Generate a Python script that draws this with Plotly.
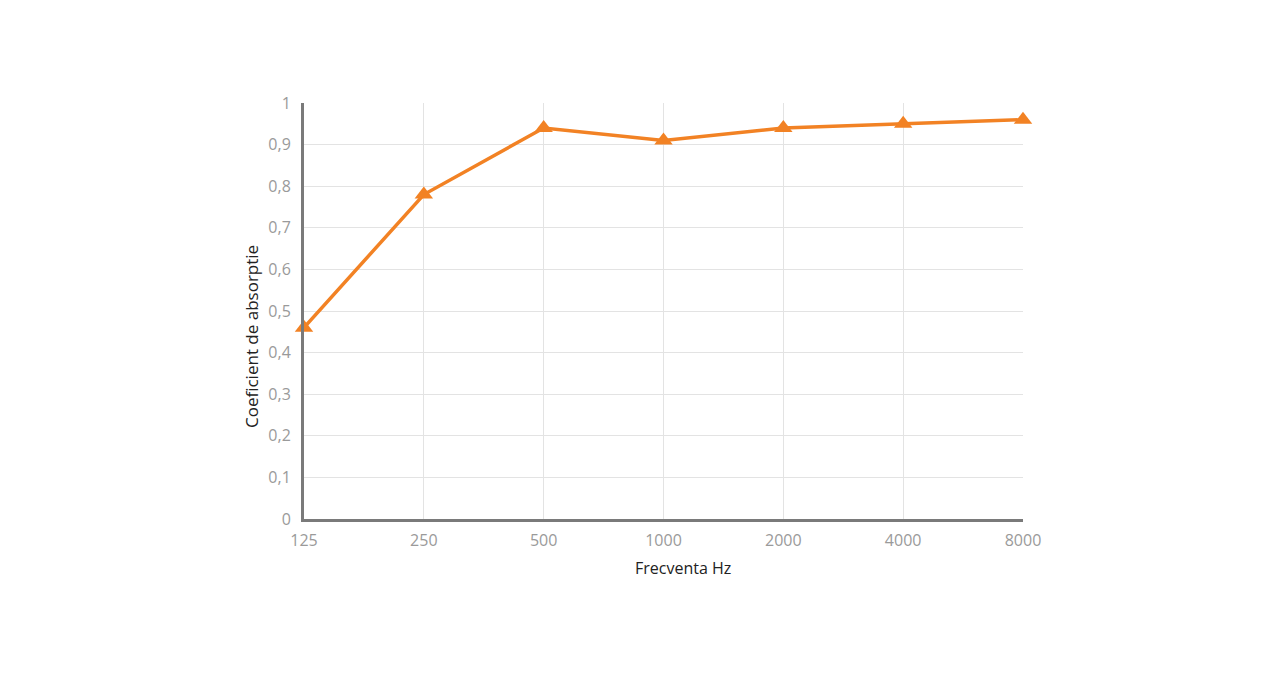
import plotly.graph_objects as go

frequencies = ["125", "250", "500", "1000", "2000", "4000", "8000"]
absorption = [0.46, 0.78, 0.94, 0.91, 0.94, 0.95, 0.96]
y_ticks = [0, 0.1, 0.2, 0.3, 0.4, 0.5, 0.6, 0.7, 0.8, 0.9, 1]
y_tick_labels = ["0", "0,1", "0,2", "0,3", "0,4", "0,5", "0,6", "0,7", "0,8", "0,9", "1"]
x_title = "Frecventa Hz"
y_title = "Coeficient de absorptie"

orange = "#F28224"

fig = go.Figure(go.Scatter(
    x=frequencies, y=absorption, mode="lines+markers",
    line=dict(color=orange, width=3.5),
    marker=dict(symbol="triangle-up", size=16, color=orange),
    cliponaxis=False, hoverinfo="x+y",
))

fig.update_layout(
    width=1280, height=682,
    margin=dict(l=296, r=265, t=95, b=171),
    paper_bgcolor="white", plot_bgcolor="white",
    font=dict(family="Open Sans, DejaVu Sans, sans-serif"),
    showlegend=False,
)
fig.add_annotation(
    text=x_title, xref="paper", yref="paper", x=0.527, y=-0.118,
    showarrow=False, xanchor="center", yanchor="middle",
    font=dict(size=16, color="#222222"),
)
fig.add_annotation(
    text=y_title, xref="paper", yref="paper", x=-0.0737, y=0.4375,
    showarrow=False, xanchor="center", yanchor="middle", textangle=-90,
    font=dict(size=17, color="#222222"),
)
fig.update_xaxes(
    type="category", range=[0, 6],
    showgrid=True, gridcolor="#e3e3e3", gridwidth=1,
    showline=True, linecolor="#7a7a7a", linewidth=3,
    ticks="", tickfont=dict(size=16, color="#9a9a9a"),
    ticklabelstandoff=5,
    zeroline=False,
)
fig.update_yaxes(
    range=[0, 1], tickvals=y_ticks, ticktext=y_tick_labels,
    showgrid=True, gridcolor="#e3e3e3", gridwidth=1,
    showline=True, linecolor="#7a7a7a", linewidth=3,
    ticks="", tickfont=dict(size=16, color="#9a9a9a"),
    ticklabelstandoff=7,
    zeroline=False,
)

fig.write_html("out.html")
